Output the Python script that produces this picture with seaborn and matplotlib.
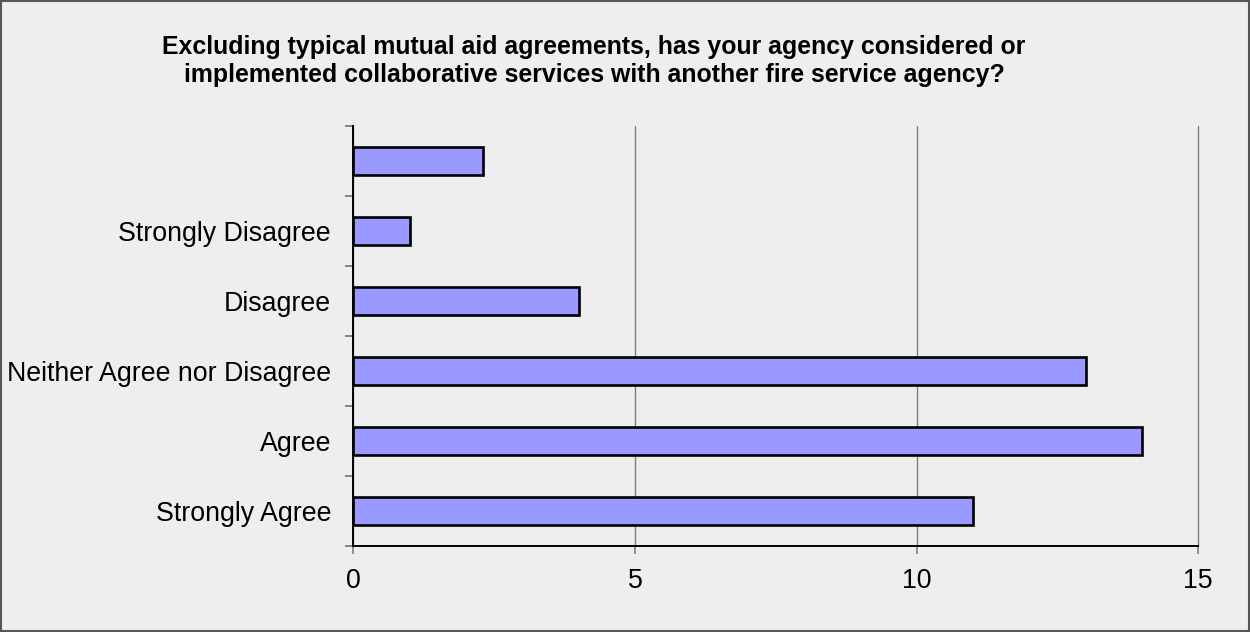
import matplotlib
matplotlib.use("Agg")
import matplotlib.pyplot as plt
import seaborn as sns
import pandas as pd
from matplotlib.patches import Rectangle

# Survey responses (top to bottom)
categories = ["", "Strongly Disagree", "Disagree", "Neither Agree nor Disagree", "Agree", "Strongly Agree"]
counts = [2.3, 1, 4, 13, 14, 11]
x_ticks = [0, 5, 10, 15]
title_text = ("Excluding typical mutual aid agreements, has your agency considered or\n"
              "implemented collaborative services with another fire service agency?")

sns.set_theme(style="white")
plt.rcParams['font.family'] = ['Liberation Sans', 'DejaVu Sans']

bg = "#eeeeee"
fig = plt.figure(figsize=(12.5, 6.32), dpi=100, facecolor=bg)
ax = fig.add_axes([353.3 / 1250, 1 - 546 / 632, (1198.3 - 353.3) / 1250, (546 - 126) / 632])
ax.set_facecolor(bg)

df = pd.DataFrame({"category": categories, "count": counts})
sns.barplot(data=df, x="count", y="category", orient="h", order=categories,
            color="#9999ff", saturation=1, width=0.4,
            edgecolor="black", linewidth=1.9, ax=ax, zorder=3)

ax.set_xlim(0, 15)
ax.set_ylim(5.5, -0.5)
ax.set_xlabel("")
ax.set_ylabel("")

# vertical gridlines
ax.set_xticks(x_ticks)
ax.set_xticklabels([str(t) for t in x_ticks])
ax.xaxis.grid(True, color="#808080", linewidth=1.0, zorder=0)
ax.yaxis.grid(False)
ax.set_axisbelow(True)
for gl in ax.get_xgridlines():
    gl.set_clip_on(False)

# category labels at centres, tick marks at band boundaries
ax.set_yticks(range(len(categories)))
ax.set_yticklabels(categories)
ax.set_yticks([i - 0.5 for i in range(len(categories) + 1)], minor=True)
ax.tick_params(axis="y", which="major", length=0, pad=16, labelsize=19.3, labelcolor="black")
ax.tick_params(axis="y", which="minor", left=True, length=6, width=1.2, color="#707070")
ax.tick_params(axis="x", which="major", bottom=True, length=6, width=1.2, color="#808080",
               pad=10, labelsize=19.3, labelcolor="black")

for side in ("top", "right"):
    ax.spines[side].set_visible(False)
for side in ("left", "bottom"):
    ax.spines[side].set_color("black")
    ax.spines[side].set_linewidth(1.4)
    ax.spines[side].set_zorder(4)

fig.text(594 / 1250, 1 - 61 / 632, title_text, ha="center", va="center",
         fontsize=17.9, fontweight="bold", linespacing=1.2, color="black",
         family=['Liberation Sans Narrow', 'Liberation Sans', 'DejaVu Sans'])

# outer frame
fig.patches.append(Rectangle((0.001, 0.002), 0.998, 0.996, transform=fig.transFigure,
                             fill=False, edgecolor="#555555", linewidth=1.5))

fig.savefig("out.png", dpi=100, facecolor=bg)
